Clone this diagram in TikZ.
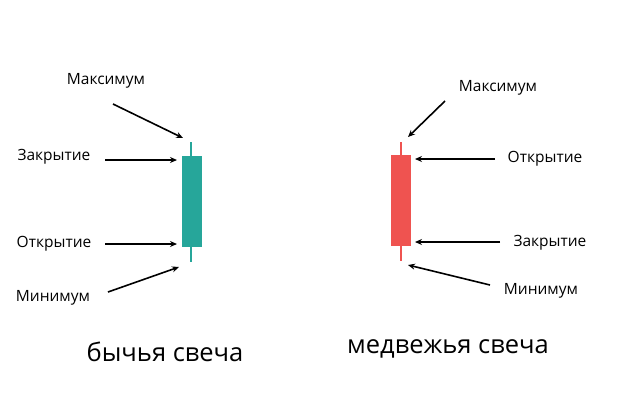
\documentclass[tikz,border=0pt]{standalone}
\usepackage{fontspec}
\setmainfont{Open Sans}
\usetikzlibrary{arrows.meta}
\definecolor{bull}{HTML}{26A69A}
\definecolor{bear}{HTML}{EF5350}
\tikzset{lbl/.style={font=\fontsize{15.5}{18}\selectfont},
 big/.style={font=\fontsize{25.5}{30}\selectfont},
 arr/.style={-{Stealth[length=7pt,width=6pt]},line width=1.6pt}}
\begin{document}
\begin{tikzpicture}[x=1pt,y=-1pt]
\useasboundingbox[fill=white] (0,0) rectangle (640,400);
% bullish
\draw[bull,line width=1.5pt] (191,142) -- (191,262);
\fill[bull] (182,156) rectangle (202,247);
\coordinate (gh) at (183,138); \coordinate (gc) at (177,160);
\coordinate (go) at (177,244); \coordinate (gl) at (179,267);
\node[lbl] (m1) at (106,81) {Максимум};
\node[lbl] (z1) at (54,157) {Закрытие};
\node[lbl] (o1) at (54,244) {Открытие};
\node[lbl] (n1) at (53,298) {Минимум};
\draw[arr] (113,104) -- (gh);
\draw[arr] (105,160) -- (gc);
\draw[arr] (105,244) -- (go);
\draw[arr] (108,292) -- (gl);
\node[big] (b1) at (165,352) {бычья свеча};
% bearish
\draw[bear,line width=1.5pt] (401,142) -- (401,261);
\fill[bear] (391,155) rectangle (411,246);
\coordinate (rh) at (408,137); \coordinate (ro) at (415,159);
\coordinate (rc) at (415,242); \coordinate (rl) at (408,265);
\node[lbl] (m2) at (498,88) {Максимум};
\node[lbl] (o2) at (545,159) {Открытие};
\node[lbl] (z2) at (550,243) {Закрытие};
\node[lbl] (n2) at (541,291) {Минимум};
\draw[arr] (445,101) -- (rh);
\draw[arr] (495,159) -- (ro);
\draw[arr] (500,242) -- (rc);
\draw[arr] (490,285) -- (rl);
\node[big] (b2) at (448,349) {медвежья свеча};
\end{tikzpicture}
\end{document}
